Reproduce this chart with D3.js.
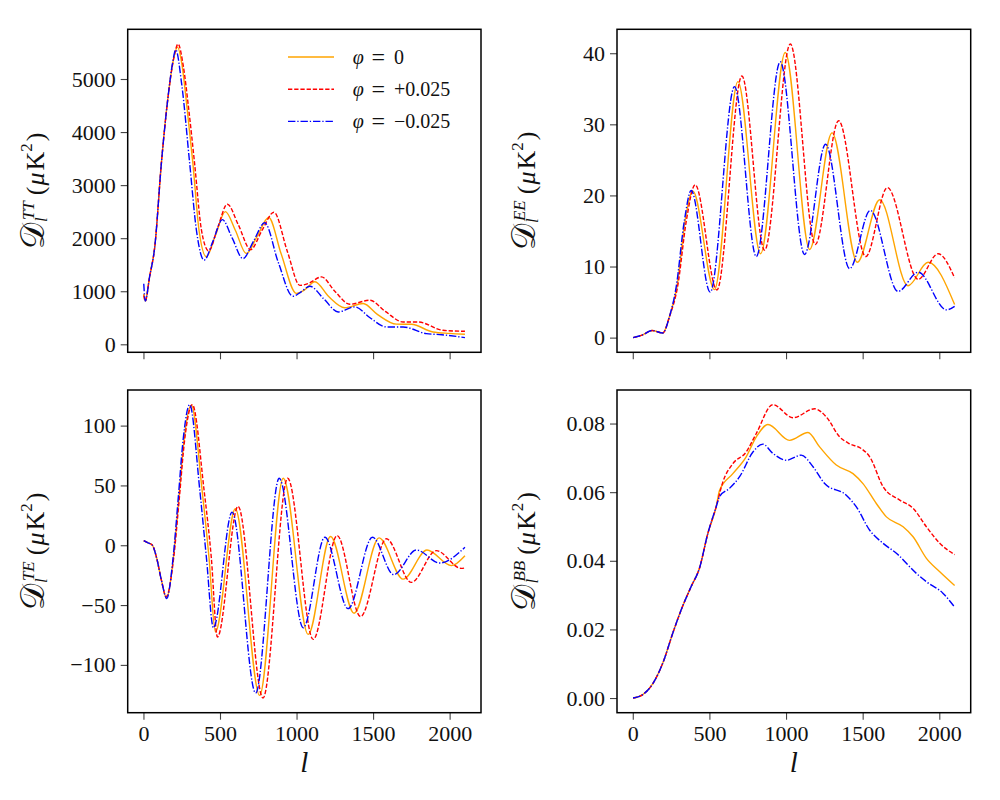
<!DOCTYPE html>
<html>
<head>
<meta charset="utf-8">
<script src="https://cdn.jsdelivr.net/npm/d3@7"></script>
<style>
  body { margin: 0; background: #fff; }
  text { font-family: 'Liberation Serif', 'DejaVu Serif', serif; fill: #111; }
</style>
</head>
<body>
<div id="chart"></div>
<script>
// multipole ticks shared by all panels
const lTicks = [0, 500, 1000, 1500, 2000]
const legendValues = ['0', '+0.025', '\u22120.025']

// TT spectrum, [l, D_l]
const ttZero = [[2, 950], [12, 815], [40, 1270], [74, 1840], [117, 3410], [161, 4670], [195, 5350], [222, 5600],
  [250, 5300], [285, 4450], [323, 3410], [363, 2150], [411, 1650], [470, 2050], [535, 2500], [600, 2150], [672, 1710],
  [745, 2050], [818, 2390], [900, 1700], [998, 960], [1050, 1020], [1120, 1180], [1210, 900], [1315, 690],
  [1435, 770], [1530, 560], [1652, 380], [1750, 377], [1891, 232], [2000, 205], [2100, 189]]
const ttPlus = [[2, 920], [12, 815], [40, 1270], [74, 1840], [117, 3410], [161, 4670], [200, 5420], [226, 5660],
  [260, 5250], [295, 4450], [334, 3410], [379, 2150], [426, 1760], [485, 2200], [548, 2640], [620, 2250], [700, 1785],
  [775, 2150], [852, 2490], [940, 1750], [1022, 1110], [1080, 1150], [1163, 1270], [1250, 1000], [1348, 755],
  [1478, 830], [1580, 620], [1696, 420], [1794, 420], [1957, 264], [2100, 245]]
const ttMinus = [[2, 1140], [12, 815], [40, 1270], [74, 1840], [117, 3410], [161, 4670], [190, 5300], [211, 5550],
  [250, 4900], [302, 3410], [346, 2150], [396, 1585], [455, 1950], [515, 2350], [580, 2000], [650, 1615],
  [720, 1950], [792, 2290], [880, 1550], [976, 905], [1030, 990], [1087, 1095], [1180, 850], [1272, 610],
  [1381, 705], [1480, 500], [1587, 327], [1696, 327], [1848, 201], [1950, 180], [2100, 126]]
const ttTicks = [0, 1000, 2000, 3000, 4000, 5000]

// EE spectrum
const eeZero = [[2, 0], [60, 0.35], [126, 1.0], [196, 0.65], [240, 3], [288, 7.1], [342, 16.5], [392, 20.6],
  [533, 6.75], [686, 36.0], [834, 11.8], [995, 40.1], [1154, 12.4], [1300, 28.8], [1465, 10.6], [1611, 19.4],
  [1796, 7.3], [1927, 10.6], [2100, 4.65]]
const eePlus = [[2, 0], [60, 0.35], [126, 1.0], [196, 0.65], [240, 3], [292, 7.1], [350, 16.5], [407, 21.5],
  [549, 6.7], [712, 36.8], [860, 12.3], [1028, 41.3], [1191, 13.1], [1343, 30.5], [1520, 11.4], [1661, 21.1],
  [1862, 8.2], [1992, 11.8], [2100, 8.4]]
const eeMinus = [[2, 0], [60, 0.35], [126, 1.0], [196, 0.65], [240, 3], [283, 7.1], [337, 16.5], [381, 20.7],
  [505, 6.4], [664, 35.3], [806, 11.4], [962, 38.8], [1121, 11.7], [1258, 27.2], [1415, 9.7], [1550, 17.9],
  [1731, 6.5], [1862, 9.2], [2047, 3.9], [2100, 4.4]]
const eeTicks = [0, 10, 20, 30, 40]

// TE spectrum
const teZero = [[2, 3.9], [30, 2.0], [57, 0.3], [85, -10], [118, -29.6], [150, -44], [196, -10], [230, 37.5],
  [265, 88], [313, 117], [383, 46], [428, -10], [470, -72.3], [600, 30.5], [759, -125.5], [913, 56],
  [1076, -74.5], [1222, 7.3], [1376, -56.8], [1539, 6.2], [1696, -28.3], [1852, -4], [2011, -17], [2100, -8.7]]
const tePlus = [[2, 3.9], [30, 2.0], [57, 0.3], [85, -10], [118, -29.6], [148, -43], [198, -10], [233, 37.5],
  [269, 88], [319, 117.5], [396, 46], [443, -10], [483, -76.7], [618, 32.5], [781, -127.7], [942, 56],
  [1109, -78.7], [1265, 8.1], [1418, -59.6], [1587, 5.4], [1750, -31], [1913, -4.5], [2076, -19.3], [2100, -19]]
const teMinus = [[2, 3.9], [30, 2.0], [57, 0.3], [85, -10], [118, -29.6], [152, -44.5], [194, -10], [226, 37.5],
  [259, 88], [302, 117.5], [368, 46], [411, -10], [457, -69], [579, 27.7], [733, -123.5], [887, 56],
  [1044, -69], [1185, 6.7], [1337, -53], [1496, 6.7], [1635, -24.6], [1783, -4], [1935, -14.8], [2100, -1.7]]
const teTicks = [-100, -50, 0, 50, 100]

// BB spectrum
const bbZero = [[2, 0], [65, 0.001], [131, 0.0042], [196, 0.0102], [261, 0.0189], [316, 0.0257], [381, 0.0325],
  [435, 0.0378], [490, 0.048], [544, 0.0557], [566, 0.0605], [653, 0.0654], [740, 0.0703], [806, 0.0761],
  [882, 0.0797], [1023, 0.0751], [1143, 0.0774], [1219, 0.0732], [1328, 0.0679], [1437, 0.0654], [1502, 0.0625],
  [1589, 0.0567], [1655, 0.0528], [1764, 0.0499], [1829, 0.047], [1916, 0.0407], [2003, 0.0368], [2100, 0.0328]]
const bbPlus = [[2, 0], [65, 0.001], [131, 0.0042], [196, 0.0102], [261, 0.0189], [316, 0.0257], [381, 0.0325],
  [435, 0.0378], [490, 0.048], [544, 0.0557], [588, 0.0630], [653, 0.0683], [740, 0.0717], [806, 0.0771],
  [914, 0.0855], [1045, 0.0817], [1187, 0.0843], [1263, 0.0819], [1350, 0.0761], [1415, 0.0741], [1491, 0.0727],
  [1546, 0.0703], [1633, 0.0616], [1742, 0.0577], [1829, 0.0553], [1916, 0.0499], [2003, 0.0451], [2100, 0.0418]]
const bbMinus = [[2, 0], [65, 0.001], [131, 0.0042], [196, 0.0102], [261, 0.0189], [316, 0.0257], [381, 0.0325],
  [435, 0.0378], [490, 0.048], [544, 0.0557], [566, 0.0587], [631, 0.0611], [697, 0.0645], [784, 0.0717],
  [849, 0.074], [914, 0.0713], [1002, 0.0693], [1099, 0.0708], [1176, 0.0674], [1252, 0.0625], [1393, 0.0591],
  [1459, 0.0557], [1546, 0.0489], [1633, 0.0451], [1720, 0.0422], [1851, 0.0363], [1916, 0.0339], [2025, 0.0305],
  [2100, 0.0265]]
const bbTicks = [0, 0.02, 0.04, 0.06, 0.08]

const width = 1000
const height = 800
const styles = [
  {color: '#ffa500', dash: null},
  {color: '#ff0000', dash: '4.3,1.9'},
  {color: '#0000ff', dash: '7.4,1.9,1.3,1.9'}
]

const panels = [
  {name: 'TT', series: [ttZero, ttPlus, ttMinus], ticks: ttTicks, fmt: d3.format('d'),
    box: [127.7, 29.3, 481, 352.3], labelX: 43.5, showX: false, legend: true},
  {name: 'EE', series: [eeZero, eePlus, eeMinus], ticks: eeTicks, fmt: d3.format('d'),
    box: [617, 29.3, 970.7, 352.3], labelX: 535, showX: false},
  {name: 'TE', series: [teZero, tePlus, teMinus], ticks: teTicks, fmt: d3.format('d'),
    box: [127.7, 390, 481, 712.7], labelX: 43.5, showX: true},
  {name: 'BB', series: [bbZero, bbPlus, bbMinus], ticks: bbTicks, fmt: d3.format('.2f'),
    box: [617, 390, 970.7, 712.7], labelX: 535, showX: true}
]

const svg = d3.select('#chart').append('svg')
  .attr('width', width)
  .attr('height', height)

// matplotlib-style autoscale: data extent plus 5% each side
function padded(values) {
  const [lo, hi] = d3.extent(values)
  const m = (hi - lo) * 0.05
  return [lo - m, hi + m]
}

// rotated mathtext-like label: D_l^{XY} (muK^2)
function yLabel(cx, cy, sup) {
  const g = svg.append('g').attr('transform', 'translate(' + cx + ',' + cy + ') rotate(-90)')
  const t = g.append('g')
  let pos = 0
  const add = (txt, size, dy, italic) => {
    const el = t.append('text')
      .attr('x', pos)
      .attr('y', dy)
      .attr('font-size', size)
      .attr('font-style', italic ? 'italic' : 'normal')
      .text(txt)
    return el
  }
  // script D, scaled so it is about 27px long like the reference
  const d = add('\u{1D49F}', 30, 0, false)
  const wd = d.node().getComputedTextLength()
  d.attr('font-size', 30 * 26 / wd)
  pos += 27
  const wSup = add(sup, 17, -10, true).attr('x', pos + 2).node().getComputedTextLength() + 2
  const wSub = add('l', 17, 3, true).node().getComputedTextLength()
  pos += Math.max(wSup, wSub) + 6
  pos += add('(', 26, 0, false).node().getComputedTextLength() + 1
  pos += add('\u03bc', 26, 0, true).node().getComputedTextLength() + 2
  pos += add('K', 26, 0, false).node().getComputedTextLength()
  pos += add('2', 17, -12, false).node().getComputedTextLength() + 2
  pos += add(')', 26, 0, false).node().getComputedTextLength()
  t.attr('transform', 'translate(' + (-pos / 2) + ',0)')
}

panels.forEach(p => {
  const [x0, y0, x1, y1] = p.box
  const allL = p.series.flat().map(d => d[0])
  const allV = p.series.flat().map(d => d[1])
  const x = d3.scaleLinear().domain(padded(allL)).range([x0, x1])
  const y = d3.scaleLinear().domain(padded(allV)).range([y1, y0])

  const line = d3.line()
    .x(d => x(d[0]))
    .y(d => y(d[1]))
    .curve(d3.curveMonotoneX)

  p.series.forEach((s, i) => {
    svg.append('path')
      .datum(s)
      .attr('fill', 'none')
      .attr('stroke', styles[i].color)
      .attr('stroke-width', 1.4)
      .attr('stroke-dasharray', styles[i].dash)
      .attr('d', line)
  })

  const xAxis = d3.axisBottom(x)
    .tickValues(lTicks)
    .tickSize(7)
    .tickPadding(6)
    .tickFormat(p.showX ? d3.format('d') : () => '')
  const yAxis = d3.axisLeft(y)
    .tickValues(p.ticks)
    .tickSize(7)
    .tickPadding(5)
    .tickFormat(p.fmt)

  const gx = svg.append('g')
    .attr('transform', 'translate(0,' + y1 + ')')
    .call(xAxis)
  const gy = svg.append('g')
    .attr('transform', 'translate(' + x0 + ',0)')
    .call(yAxis)
  ;[gx, gy].forEach(g => {
    g.select('.domain').remove()
    g.selectAll('.tick line').attr('stroke', '#444').attr('stroke-width', 1.1)
    g.selectAll('.tick text')
      .attr('font-size', 22)
      .attr('font-family', "'Liberation Serif', serif")
      .attr('fill', '#111')
  })

  svg.append('rect')
    .attr('x', x0)
    .attr('y', y0)
    .attr('width', x1 - x0)
    .attr('height', y1 - y0)
    .attr('fill', 'none')
    .attr('stroke', '#000')
    .attr('stroke-width', 1.5)

  yLabel(p.labelX, (y0 + y1) / 2, p.name)

  if (p.showX) {
    svg.append('text')
      .attr('x', (x0 + x1) / 2)
      .attr('y', 772)
      .attr('text-anchor', 'middle')
      .attr('font-size', 29)
      .attr('font-style', 'italic')
      .text('l')
  }

  if (p.legend) {
    legendValues.forEach((v, i) => {
      const ly = 57 + i * 32.2
      svg.append('line')
        .attr('x1', 288)
        .attr('x2', 334)
        .attr('y1', ly)
        .attr('y2', ly)
        .attr('stroke', styles[i].color)
        .attr('stroke-width', 1.4)
        .attr('stroke-dasharray', styles[i].dash)
      const t = svg.append('text')
        .attr('x', 352.7)
        .attr('y', ly + 7)
        .attr('font-size', 20)
      t.append('tspan').attr('font-style', 'italic').text('\u03c6')
      t.append('tspan').attr('x', 371.5).attr('font-size', 24).attr('dy', 1).text('=')
      t.append('tspan').attr('x', 394).attr('dy', -1).text(v)
    })
  }
})
</script>
</body>
</html>
